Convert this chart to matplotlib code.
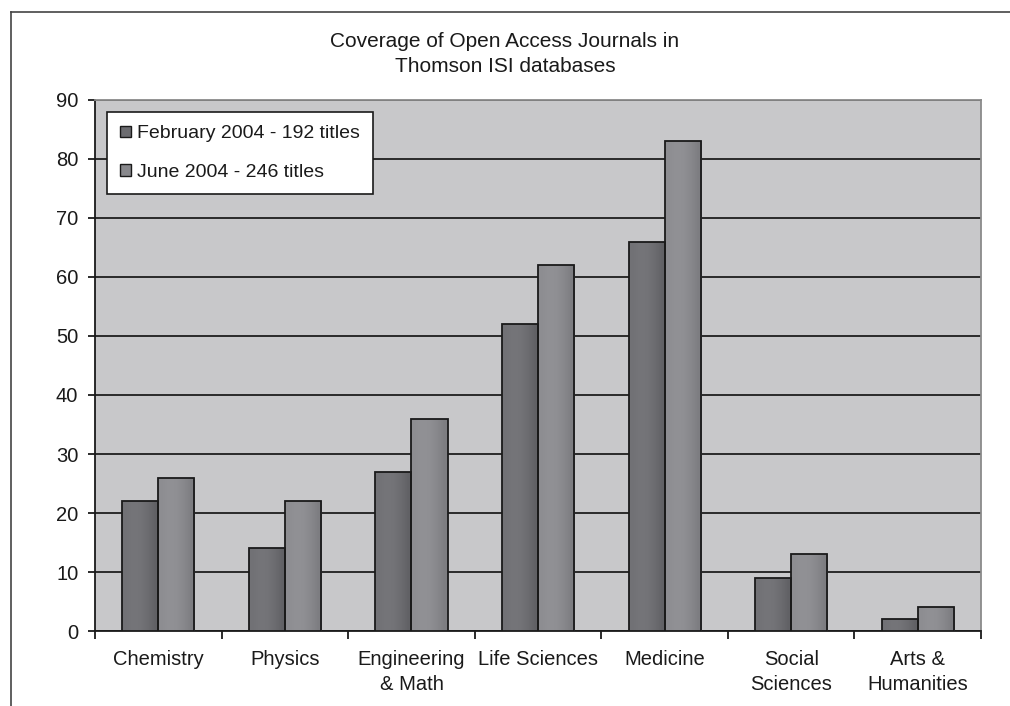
import matplotlib
matplotlib.use("Agg")
import matplotlib.pyplot as plt
import numpy as np
from matplotlib.lines import Line2D

plt.rcParams['font.family'] = ['Liberation Sans', 'DejaVu Sans']

categories = ["Chemistry", "Physics", "Engineering\n& Math", "Life Sciences",
              "Medicine", "Social\nSciences", "Arts &\nHumanities"]
feb_2004 = [22, 14, 27, 52, 66, 9, 2]
jun_2004 = [26, 22, 36, 62, 83, 13, 4]
series_labels = ["February 2004 - 192 titles", "June 2004 - 246 titles"]
title = "Coverage of Open Access Journals in\nThomson ISI databases"
yticks = [0, 10, 20, 30, 40, 50, 60, 70, 80, 90]

fig = plt.figure(figsize=(10.10, 7.06), dpi=100)
ax = fig.add_axes([0.0941, 0.1062, 0.8772, 0.7522])
ax.set_facecolor("#c8c8ca")

x = np.arange(len(categories))
w = 0.285
c_dark = "#6c6c70"
c_light = "#88888c"
b1 = ax.bar(x - w / 2, feb_2004, w, color=c_dark, edgecolor="#1a1a1a", linewidth=1.3, zorder=3)
b2 = ax.bar(x + w / 2, jun_2004, w, color=c_light, edgecolor="#1a1a1a", linewidth=1.3, zorder=3)

# subtle horizontal gradient inside bars
def shade(bars, base):
    rgb = np.array(matplotlib.colors.to_rgb(base))
    prof = np.array([0.02, 0.035, 0.03, 0.0, -0.04])
    grad = np.clip(rgb[None, :] + prof[:, None], 0, 1)[None, :, :]
    for b in bars:
        x0, y0 = b.get_x(), b.get_y()
        im = ax.imshow(grad, extent=(x0, x0 + b.get_width(), y0, y0 + b.get_height()),
                       aspect="auto", zorder=3.5, interpolation="bilinear")
        im.set_clip_path(b)
        b.set_facecolor("none")
        b.set_zorder(4)

shade(b1, c_dark)
shade(b2, c_light)

ax.set_xlim(-0.5, len(categories) - 0.5)
ax.set_ylim(0, 90)
ax.set_yticks(yticks)
ax.set_yticklabels([str(v) for v in yticks], fontsize=14.5, color="#1a1a1a")
ax.yaxis.grid(True, color="#1e1e1e", linewidth=1.3, zorder=1)
ax.set_axisbelow(True)

ax.set_xticks(x)
ax.set_xticklabels(categories, fontsize=14.5, color="#1a1a1a", linespacing=1.42)
ax.tick_params(axis="x", length=0, pad=13.5)
ax.tick_params(axis="y", length=5, width=1.3, color="#1a1a1a", pad=7)
# category boundary ticks
ax.set_xticks(np.arange(-0.5, len(categories)), minor=True)
ax.tick_params(axis="x", which="minor", length=6, width=1.3, color="#1a1a1a")

for s in ["top", "right"]:
    ax.spines[s].set_color("#8a8a8a")
    ax.spines[s].set_linewidth(1.3)
ax.spines["left"].set_color("#1a1a1a")
ax.spines["left"].set_linewidth(1.3)
ax.spines["bottom"].set_color("#1a1a1a")
ax.spines["bottom"].set_linewidth(1.3)

fig.text(0.5, 0.9235, title, ha="center", va="center", fontsize=15, color="#1a1a1a",
         linespacing=1.38)

leg = ax.legend([b1, b2], series_labels, loc="upper left", bbox_to_anchor=(0.0135, 0.977),
                fontsize=14, frameon=True, fancybox=False, framealpha=1,
                handlelength=0.55, handleheight=0.55, handletextpad=0.3,
                borderpad=0.68, labelspacing=1.12, borderaxespad=0)
leg.get_frame().set_edgecolor("#1a1a1a")
leg.get_frame().set_linewidth(1.2)
leg.get_frame().set_facecolor("white")
for h, c in zip(leg.legend_handles, [c_dark, c_light]):
    h.set_facecolor(c)
    h.set_edgecolor("#1a1a1a")
    h.set_linewidth(1.0)
for t in leg.get_texts():
    t.set_color("#1a1a1a")
leg.set_zorder(10)

# outer frame (top and left lines only)
fig.add_artist(Line2D([11 / 1010, 1.0], [1 - 12 / 706] * 2, color="#444444", lw=1.2,
                      transform=fig.transFigure))
fig.add_artist(Line2D([11 / 1010] * 2, [0, 1 - 12 / 706], color="#444444", lw=1.2,
                      transform=fig.transFigure))

fig.savefig("out.png", dpi=100, facecolor="white")
